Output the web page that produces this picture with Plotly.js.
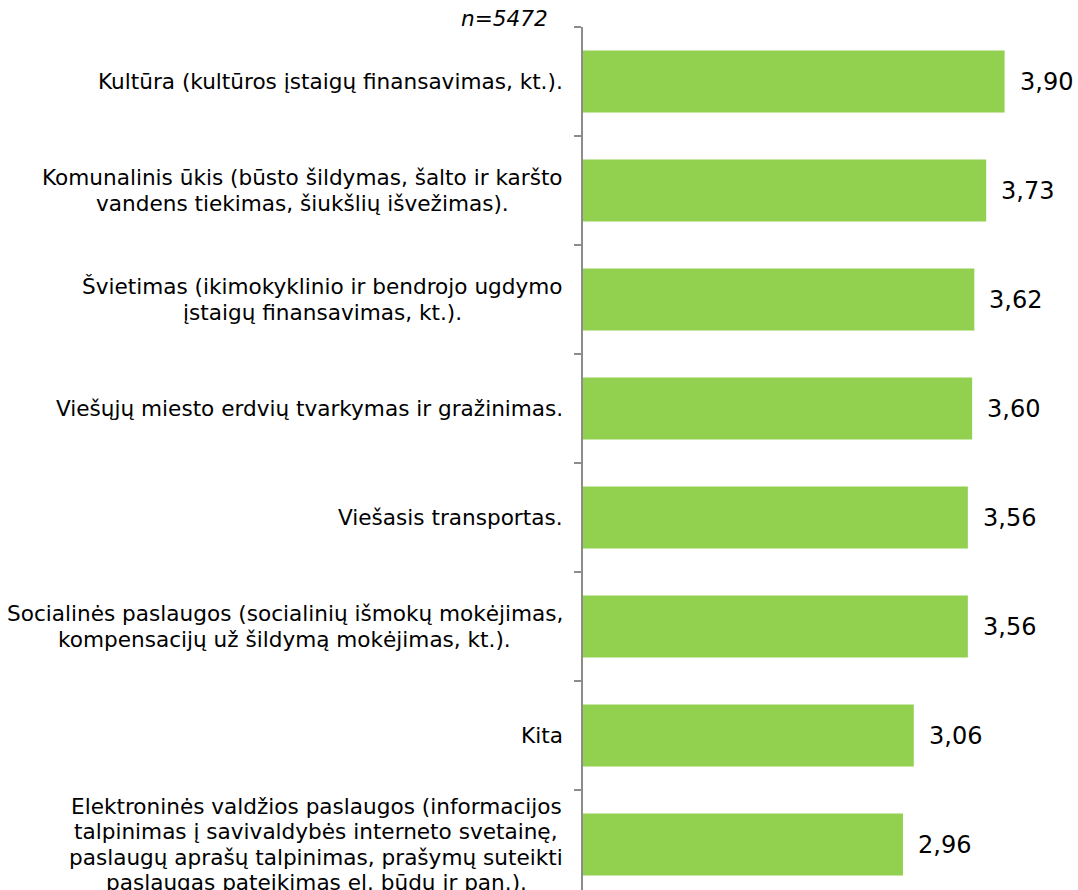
<!DOCTYPE html>
<html>
<head>
<meta charset="utf-8">
<script src="https://cdn.plot.ly/plotly-3.0.1.min.js"></script>
<style>html,body{margin:0;padding:0;background:#fff;}</style>
</head>
<body>
<div id="chart" style="width:1078px;height:890px;"></div>
<script>
const categories = [
  "Kultūra (kultūros įstaigų finansavimas, kt.).",
  "Komunalinis ūkis (būsto šildymas, šalto ir karšto<br>vandens tiekimas, šiukšlių išvežimas).",
  "Švietimas (ikimokyklinio ir bendrojo ugdymo<br>įstaigų finansavimas, kt.).",
  "Viešųjų miesto erdvių tvarkymas ir gražinimas.",
  "Viešasis transportas.",
  "Socialinės paslaugos (socialinių išmokų mokėjimas,<br>kompensacijų už šildymą mokėjimas, kt.).",
  "Kita",
  "Elektroninės valdžios paslaugos (informacijos<br>talpinimas į savivaldybės interneto svetainę,<br>paslaugų aprašų talpinimas, prašymų suteikti<br>paslaugas pateikimas el. būdu ir pan.)."
];
const values = [3.90, 3.73, 3.62, 3.60, 3.56, 3.56, 3.06, 2.96];
const sampleNote = "n=5472";

const ids = categories.map((c, i) => "c" + i);
const fmt = v => v.toFixed(2).replace(".", ",");

const LABEL_FONT = 21.6;
const LINE_H = 25.6;
const canvas = document.createElement("canvas");
const ctx = canvas.getContext("2d");
ctx.font = LABEL_FONT + "px 'DejaVu Sans'";

const trace = {
  type: "bar",
  orientation: "h",
  y: ids,
  x: values,
  width: 0.57,
  marker: {color: "#92D050"},
  hoverinfo: "skip"
};

const annotations = [];
categories.forEach((c, i) => {
  const lines = c.split("<br>");
  const widths = lines.map(l => ctx.measureText(l).width);
  const blockW = Math.max(...widths);
  const n = lines.length;
  lines.forEach((l, k) => {
    annotations.push({
      xref: "paper", yref: "y", x: 0, y: ids[i],
      xanchor: "center", yanchor: "middle",
      xshift: -20 - blockW / 2,
      yshift: ((n - 1) / 2 - k) * LINE_H,
      showarrow: false, text: l,
      font: {family: "DejaVu Sans", size: LABEL_FONT, color: "#000"}
    });
  });
  annotations.push({
    xref: "x", yref: "y", x: values[i], y: ids[i],
    xanchor: "left", yanchor: "middle", xshift: 13,
    showarrow: false, text: fmt(values[i]),
    font: {family: "DejaVu Sans", size: 24, color: "#000"}
  });
});
annotations.push({
  xref: "paper", yref: "paper", x: 0, y: 1,
  xanchor: "right", yanchor: "bottom", xshift: -33, yshift: -6,
  showarrow: false, text: "<i>" + sampleNote + "</i>",
  font: {family: "DejaVu Sans", size: LABEL_FONT, color: "#000"}
});

const layout = {
  width: 1078, height: 890,
  margin: {l: 583, r: 0, t: 27, b: 0, pad: 0},
  paper_bgcolor: "#fff", plot_bgcolor: "#fff",
  showlegend: false,
  xaxis: {range: [0, 495/108.1], visible: false, fixedrange: true},
  yaxis: {
    type: "category", categoryorder: "array", categoryarray: ids,
    range: [7.417, -0.5],
    showline: true, linecolor: "#8c8c8c", linewidth: 2,
    ticks: "outside", tickson: "boundaries", ticklen: 7, tickcolor: "#8c8c8c", tickwidth: 2,
    showticklabels: false, showgrid: false, zeroline: false
  },
  annotations: annotations
};

Plotly.newPlot("chart", [trace], layout, {displayModeBar: false, staticPlot: true});
</script>
</body>
</html>
